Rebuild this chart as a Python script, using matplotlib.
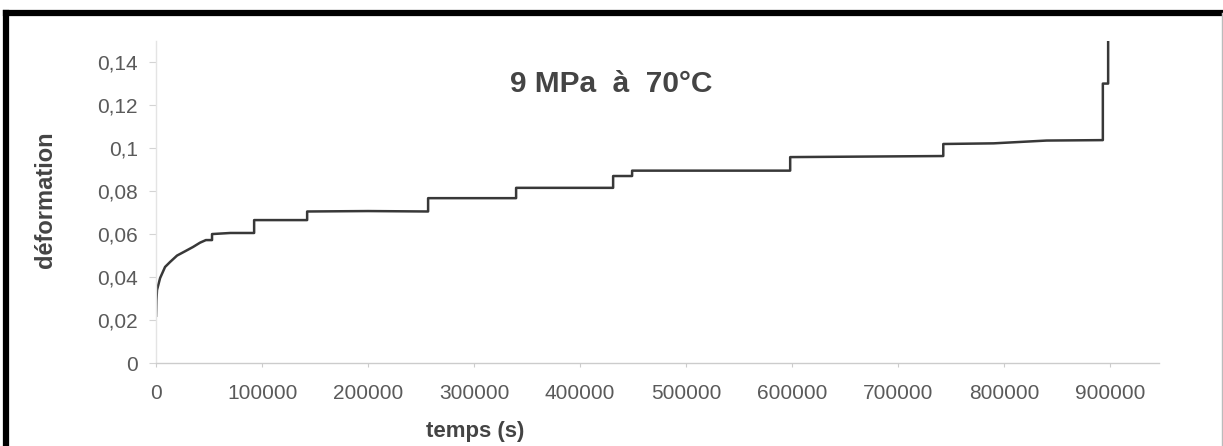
import matplotlib
matplotlib.use("Agg")
from matplotlib import pyplot as plt
from matplotlib.lines import Line2D

plt.rcParams['font.family'] = ['Liberation Sans', 'DejaVu Sans']

# temps (s) / deformation
temps = [0, 300, 900, 3800, 8500, 13200, 19800, 27400, 34900, 41500, 47000, 52800,
         52800, 70000, 92500,
         92500, 142500,
         142500, 200000, 256600,
         256600, 339600,
         339600, 431100,
         431100, 449000,
         449000, 598100,
         598100, 742500,
         742500, 790000, 840000, 893000,
         893000, 898000,
         898000]
deformation = [0.022, 0.029, 0.034, 0.0395, 0.0447, 0.047, 0.050, 0.052, 0.054, 0.056, 0.0572, 0.0572,
               0.0600, 0.0605, 0.0605,
               0.0665, 0.0665,
               0.0705, 0.0707, 0.0705,
               0.0767, 0.0767,
               0.0815, 0.0815,
               0.0870, 0.0870,
               0.0895, 0.0895,
               0.0958, 0.0963,
               0.1019, 0.1022, 0.1035, 0.1037,
               0.1300, 0.1300,
               0.1510]

xticks = [0, 100000, 200000, 300000, 400000, 500000, 600000, 700000, 800000, 900000]
yticks = [0, 0.02, 0.04, 0.06, 0.08, 0.1, 0.12, 0.14]
ylabels = ['0', '0,02', '0,04', '0,06', '0,08', '0,1', '0,12', '0,14']

fig = plt.figure(figsize=(12.23, 4.46), dpi=100)
ax = fig.add_axes([0.1276, 0.186, 0.8201, 0.723])

ax.plot(temps, deformation, color='#383838', lw=1.8)

ax.set_xlim(0, 946000)
ax.set_ylim(0, 0.15)
ax.set_xticks(xticks)
ax.set_xticklabels([str(v) for v in xticks])
ax.set_yticks(yticks)
ax.set_yticklabels(ylabels)

for s in ['top', 'right']:
    ax.spines[s].set_visible(False)
ax.spines['left'].set_color('#e4e4e4')
ax.spines['bottom'].set_color('#cccccc')
ax.spines['left'].set_linewidth(1.0)
ax.spines['bottom'].set_linewidth(1.0)

ax.tick_params(axis='x', length=3, color='#cccccc', pad=12, labelsize=15, labelcolor='#5a5a5a')
ax.tick_params(axis='y', length=5, color='#d4d4d4', pad=8, labelsize=15, labelcolor='#5a5a5a')

ax.set_xlabel('temps (s)', fontsize=16, fontweight='bold', color='#444444')
ax.xaxis.set_label_coords((475 - 156) / 1003, -(431 - 363) / 322.5)
ax.set_ylabel('déformation', fontsize=17, fontweight='bold', color='#444444')
ax.yaxis.set_label_coords(-(156 - 45) / 1003, (363 - 200) / 322.5)
ax.xaxis.label.set_va('center')
ax.yaxis.label.set_va('center')

fig.text(611 / 1223, 1 - 84 / 446, '9 MPa  à  70°C', fontsize=21.5, fontweight='bold',
         color='#444444', ha='center', va='center')

# frame around the picture
fig.add_artist(Line2D([5.5 / 1223, 5.5 / 1223], [0, 1 - 12.5 / 446], color='black', lw=4.5,
                      transform=fig.transFigure, solid_capstyle='projecting'))
fig.add_artist(Line2D([5.5 / 1223, 1], [1 - 12.5 / 446, 1 - 12.5 / 446], color='black', lw=4.5,
                      transform=fig.transFigure, solid_capstyle='projecting'))
fig.add_artist(Line2D([1221.5 / 1223, 1221.5 / 1223], [0, 1 - 12.5 / 446], color='#bbbbbb', lw=1,
                      transform=fig.transFigure))

fig.savefig('out.png', dpi=100)
